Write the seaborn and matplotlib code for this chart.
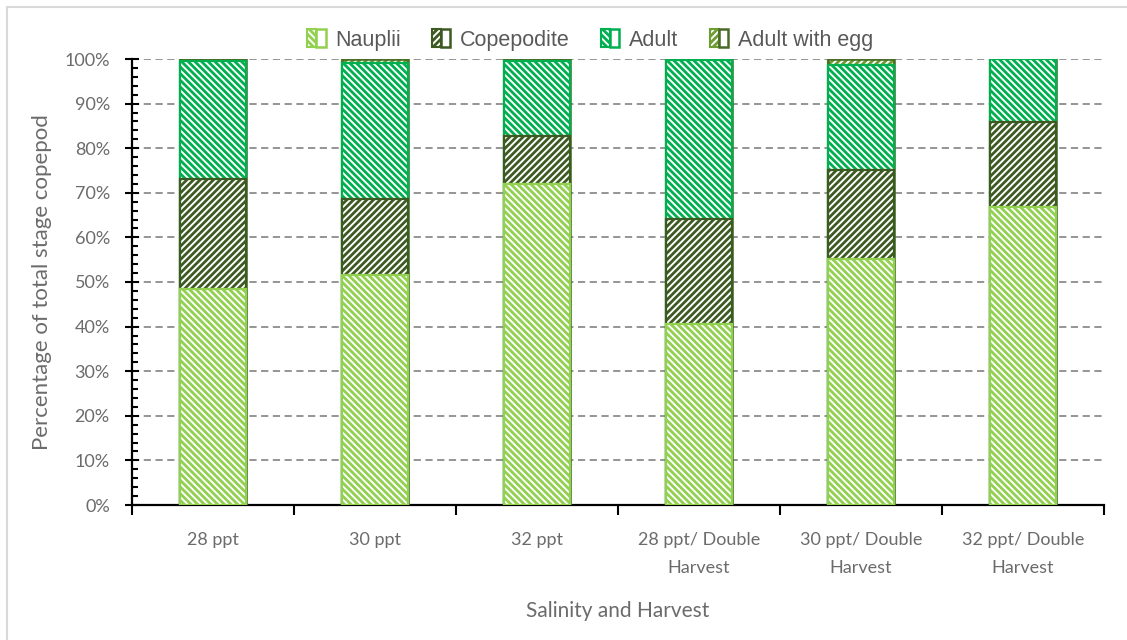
import matplotlib
matplotlib.use("Agg")
import matplotlib.pyplot as plt
import seaborn as sns
import pandas as pd
import numpy as np
from matplotlib.patches import Patch, Rectangle
from matplotlib.legend_handler import HandlerTuple
from matplotlib.ticker import MultipleLocator, FixedLocator, NullFormatter, FixedFormatter

# Stage composition (% of total copepods) per salinity / harvest treatment
categories = ["28 ppt", "30 ppt", "32 ppt",
              "28 ppt/ Double\nHarvest", "30 ppt/ Double\nHarvest", "32 ppt/ Double\nHarvest"]
nauplii = [48.4, 51.6, 72.0, 40.6, 55.2, 66.8]
copepodite = [24.7, 17.0, 10.7, 23.5, 19.9, 19.1]
adult = [26.4, 30.5, 16.8, 35.7, 23.6, 14.1]
adult_with_egg = [0.5, 0.9, 0.5, 0.2, 1.3, 0.0]

series_names = ["Nauplii", "Copepodite", "Adult", "Adult with egg"]
series_values = [nauplii, copepodite, adult, adult_with_egg]
series_edge = ["#92D050", "#3D5A22", "#00B050", "#4A6B26"]
series_hatch_col = ["#92D050", "#3D5A22", "#00B050", "#6E9E33"]
series_hatch = ["\\" * 5, "/" * 5, "\\" * 5, "/" * 5]

df = pd.DataFrame({"category": categories})
for name, vals in zip(series_names, series_values):
    df[name] = vals
cum = df[series_names].cumsum(axis=1).assign(category=categories)

sns.set_theme(style="white")
plt.rcParams["hatch.linewidth"] = 2.0
plt.rcParams["font.family"] = ["Lato", "DejaVu Sans"]

fig = plt.figure(figsize=(11.27, 6.40), dpi=100)
ax = fig.add_axes([132 / 1127, 1 - 505 / 640, (1104 - 132) / 1127, (505 - 59) / 640])

text_col = "#6B6B6B"
bar_w = 0.41

# Draw cumulative totals from the top segment down so lower segments overlay
for i in range(len(series_names) - 1, -1, -1):
    n_before = len(ax.patches)
    sns.barplot(data=cum, x="category", y=series_names[i], order=categories,
                color="white", width=bar_w, errorbar=None, ax=ax)
    for p in ax.patches[n_before:]:
        p.set_facecolor("white")
        p.set_edgecolor(series_hatch_col[i])
        p.set_hatch(series_hatch[i])
        p.set_linewidth(1.6)
        p.set_zorder(3)
    if series_hatch_col[i] != series_edge[i]:
        # separate outline colour for this segment
        n_mid = len(ax.patches)
        sns.barplot(data=cum, x="category", y=series_names[i], order=categories,
                    color="white", width=bar_w, errorbar=None, ax=ax, fill=False)
        for p in ax.patches[n_mid:]:
            p.set_fill(False)
            p.set_edgecolor(series_edge[i])
            p.set_linewidth(1.8)
            p.set_zorder(3)

ax.set_ylim(0, 100)
ax.set_xlim(-0.5, len(categories) - 0.5)

# y axis: percent labels, inout majors and inward minors
ax.yaxis.set_major_locator(MultipleLocator(10))
ax.yaxis.set_minor_locator(MultipleLocator(2))
ax.set_yticks(np.arange(0, 101, 10))
ax.set_yticklabels([f"{v}%" for v in range(0, 101, 10)])
ax.tick_params(axis="y", which="major", direction="inout", length=10, width=1.5,
               color="black", left=True, labelsize=13, labelcolor=text_col, pad=11)
ax.tick_params(axis="y", which="minor", direction="in", length=4, width=1.5,
               color="black", left=True)

# x axis: boundary ticks, category labels centred between them
ax.xaxis.set_major_locator(FixedLocator(np.arange(-0.5, len(categories), 1.0)))
ax.xaxis.set_major_formatter(NullFormatter())
ax.xaxis.set_minor_locator(FixedLocator(np.arange(len(categories))))
ax.xaxis.set_minor_formatter(FixedFormatter(categories))
ax.tick_params(axis="x", which="major", direction="out", length=7, width=1.5,
               color="black", bottom=True)
ax.tick_params(axis="x", which="minor", length=0, bottom=True, labelsize=13,
               labelcolor=text_col, pad=19.5)
for lab in ax.xaxis.get_minorticklabels():
    lab.set_linespacing(1.95)
    lab.set_verticalalignment("top")

ax.yaxis.grid(True, which="major", linestyle=(0, (4, 2.5)), color="#8C8C8C", linewidth=1.3)
ax.xaxis.grid(False)
ax.set_axisbelow(True)

for side in ["top", "right"]:
    ax.spines[side].set_visible(False)
for side in ["left", "bottom"]:
    ax.spines[side].set_color("black")
    ax.spines[side].set_linewidth(1.6)

ax.set_xlabel("Salinity and Harvest", fontsize=15, color=text_col, labelpad=18)
ax.set_ylabel("Percentage of total stage copepod", fontsize=16, color=text_col, labelpad=9)

# Legend with square hatched swatches
handles = []
for i in range(len(series_names)):
    hp = Patch(facecolor="white", edgecolor=series_hatch_col[i], hatch=series_hatch[i], linewidth=1.5)
    ep = Patch(fill=False, edgecolor=series_edge[i], linewidth=1.8)
    handles.append((hp, ep))
leg = fig.legend(handles, series_names, loc="center", bbox_to_anchor=(590 / 1127, 1 - 40 / 640),
                 ncol=4, frameon=False, handlelength=0.85, handleheight=0.85,
                 handletextpad=0.45, columnspacing=1.45,
                 handler_map={tuple: HandlerTuple(ndivide=None, pad=0)},
                 prop={"family": ["Liberation Sans", "DejaVu Sans"], "size": 15.5})
for t in leg.get_texts():
    t.set_color("#595959")

# Light outer chart frame
fig.add_artist(Rectangle((7 / 1127, -0.5), 2.0, 1.5 - 7 / 640, transform=fig.transFigure,
                         fill=False, edgecolor="#D9D9D9", linewidth=1.5))

fig.savefig("out.png", dpi=100)
